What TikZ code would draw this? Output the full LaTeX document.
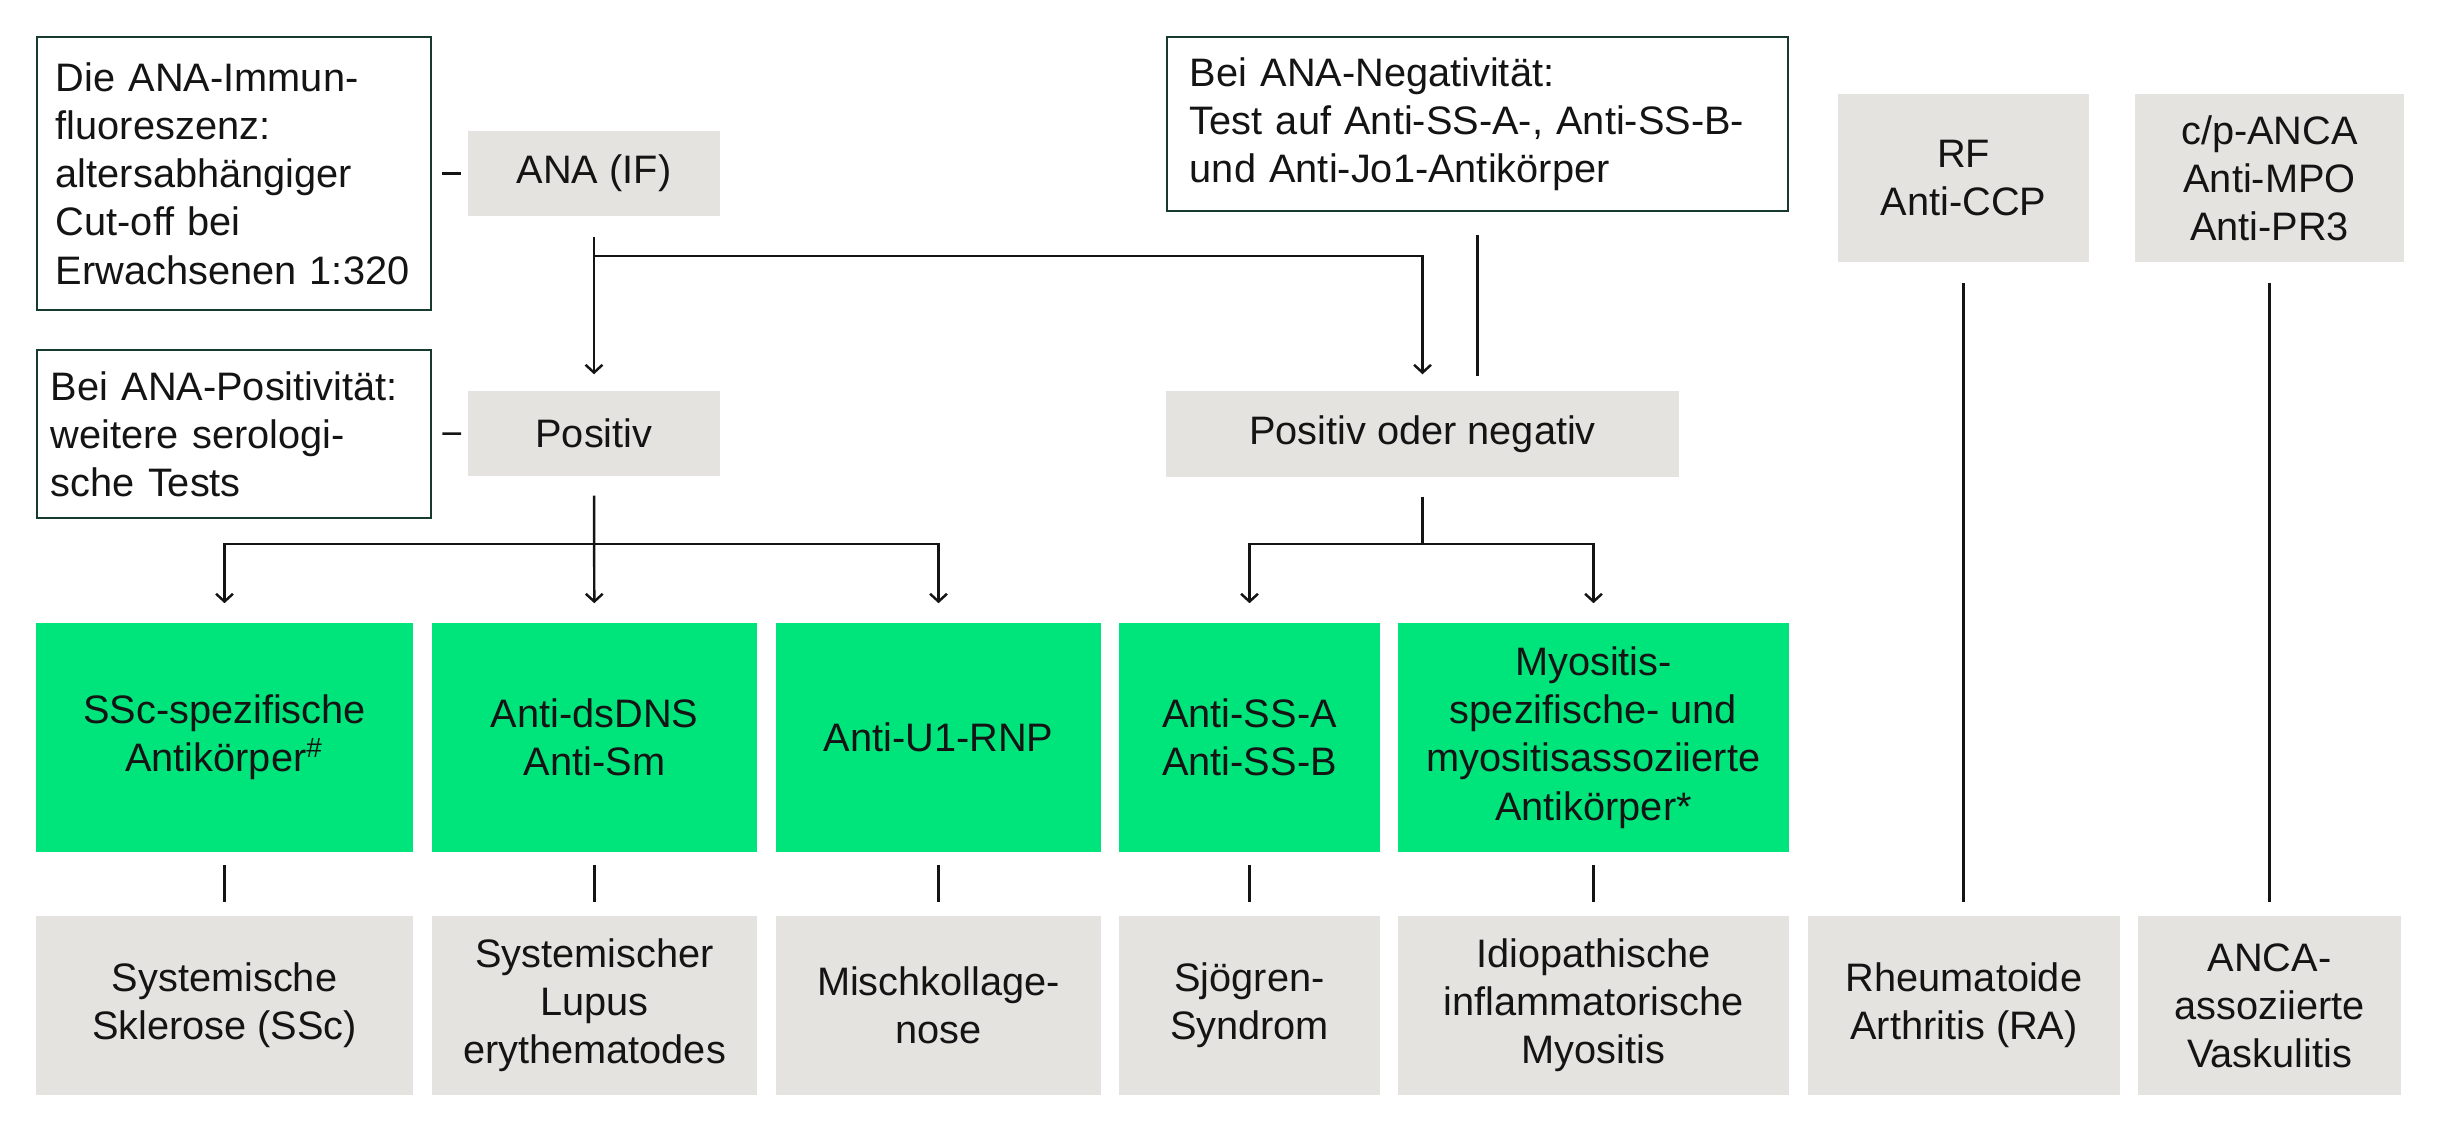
\documentclass[tikz,border=0pt]{standalone}
\usepackage{fontspec}
\setmainfont{Liberation Sans}
\usetikzlibrary{positioning, arrows.meta}
\definecolor{notegreen}{RGB}{22,58,48}
\definecolor{boxgrey}{RGB}{228,227,223}
\definecolor{abgreen}{RGB}{0,228,124}
\definecolor{inkdark}{RGB}{20,20,20}
\hyphenpenalty=10000
\exhyphenpenalty=10000

\begin{document}
\begin{tikzpicture}[x=0.01cm, y=-0.01cm,
        every node/.style={font=\fontsize{11.3}{13.7}\selectfont, text=inkdark},
        note/.style={draw=notegreen, line width=0.7pt, fill=white, align=left},
        testbox/.style={fill=boxgrey, align=center, inner sep=0pt},
        abbox/.style={fill=abgreen, align=center, inner sep=0pt, minimum height=2.29cm},
        dxbox/.style={fill=boxgrey, align=center, inner sep=0pt, minimum height=1.79cm},
        link/.style={draw=inkdark, line width=0.7pt},
        flow/.style={link, -{Straight Barb[length=2.2pt, width=4.8pt]}}
    ]
    \useasboundingbox (0,0) rectangle (2440,1131);

    % notes
    \node[note, inner xsep=0.19cm, text width=3.56cm, minimum height=2.73cm] (anaNote) at (234,173.5)
        {Die ANA-Immun-\\fluoreszenz:\\altersabhängiger\\Cut-off bei\\Erwachsenen 1:320};
    \node[note, inner xsep=0.14cm, text width=3.66cm, minimum height=1.68cm] (posNote) at (234,434)
        {Bei ANA-Positivität:\\weitere serologi-\\sche Tests};
    \node[note, inner xsep=0.23cm, text width=5.75cm, minimum height=1.74cm] (negNote) at (1477.5,124)
        {Bei ANA-Negativität:\\Test auf Anti-SS-A-, Anti-SS-B-\\und Anti-Jo1-Antikörper};

    % tests
    \node[testbox, minimum width=2.52cm, minimum height=0.85cm] (ana) at (594,173.5) {ANA (IF)};
    \node[testbox, minimum width=2.52cm, minimum height=0.85cm] (pos) at (594,433.5) {Positiv};
    \node[testbox, minimum width=5.13cm, minimum height=0.86cm] (posneg) at (1422.5,434) {Positiv oder negativ};
    \node[testbox, minimum width=2.51cm, minimum height=1.68cm] (rf) at (1963.5,178) {RF\\Anti-CCP};
    \node[testbox, minimum width=2.69cm, minimum height=1.68cm] (anca) at (2269.5,178) {c/p-ANCA\\Anti-MPO\\Anti-PR3};

    % antibodies
    \node[abbox, minimum width=3.77cm] (ssc) at (224.5,737.5) {SSc-spezifische\\Antikörper\textsuperscript{\#}};
    \node[abbox, minimum width=3.25cm] (dsdna) at (594.5,737.5) {Anti-dsDNS\\Anti-Sm};
    \node[abbox, minimum width=3.25cm] (uone) at (938.5,737.5) {Anti-U1-RNP};
    \node[abbox, minimum width=2.61cm] (ssa) at (1249.5,737.5) {Anti-SS-A\\Anti-SS-B};
    \node[abbox, minimum width=3.91cm] (myo) at (1593.5,737.5)
        {Myositis-\\spezifische- und\\myositisassoziierte\\Antikörper*};

    % diagnoses
    \node[dxbox, minimum width=3.77cm] (ssd) at (224.5,1005.5) {Systemische\\Sklerose (SSc)};
    \node[dxbox, minimum width=3.25cm] (sle) at (594.5,1005.5) {Systemischer\\Lupus\\erythematodes};
    \node[dxbox, minimum width=3.25cm] (mctd) at (938.5,1005.5) {Mischkollage-\\nose};
    \node[dxbox, minimum width=2.61cm] (sjoegren) at (1249.5,1005.5) {Sjögren-\\Syndrom};
    \node[dxbox, minimum width=3.91cm] (iim) at (1593.5,1005.5) {Idiopathische\\inflammatorische\\Myositis};
    \node[dxbox, minimum width=3.12cm] (ra) at (1964,1005.5) {Rheumatoide\\Arthritis (RA)};
    \node[dxbox, minimum width=2.63cm] (aav) at (2269.5,1005.5) {ANCA-\\assoziierte\\Vaskulitis};

    % note ticks
    \draw[link, shorten <=0.1cm, shorten >=0.06cm] (anaNote) -- (ana);
    \draw[link, shorten <=0.1cm, shorten >=0.06cm] (posNote) -- (pos);

    % ANA branch
    \coordinate (anaFork) at ([yshift=-0.39cm]ana.south);
    \draw[flow, shorten <=0.2cm, shorten >=0.16cm] (ana) -- (pos);
    \draw[flow, shorten >=0.16cm] (anaFork) -| (posneg);
    \draw[link, shorten <=0.23cm, shorten >=0.14cm] (negNote.south) -- (negNote.south |- posneg.north);

    % positive branch
    \coordinate (posFork) at ([yshift=-0.67cm]pos.south);
    \draw[flow, shorten <=0.19cm, shorten >=0.19cm] (pos) -- (dsdna);
    \draw[flow, shorten >=0.19cm] (posFork) -| (ssc);
    \draw[flow, shorten >=0.19cm] (posFork) -| (uone);

    % positive or negative branch
    \coordinate (posnegFork) at ([yshift=-0.66cm]posneg.south);
    \draw[link, shorten <=0.19cm] (posneg) -- (posnegFork);
    \draw[flow, shorten >=0.19cm] (posnegFork) -| (ssa);
    \draw[flow, shorten >=0.19cm] (posnegFork) -| (myo);

    % antibody to diagnosis
    \foreach \ab/\dx in {ssc/ssd, dsdna/sle, uone/mctd, ssa/sjoegren, myo/iim}
        \draw[link, shorten <=0.12cm, shorten >=0.13cm] (\ab) -- (\dx);
    \draw[link, shorten <=0.2cm, shorten >=0.13cm] (rf.south) -- (rf.south |- ra.north);
    \draw[link, shorten <=0.2cm, shorten >=0.13cm] (anca) -- (aav);

\end{tikzpicture}
\end{document}
